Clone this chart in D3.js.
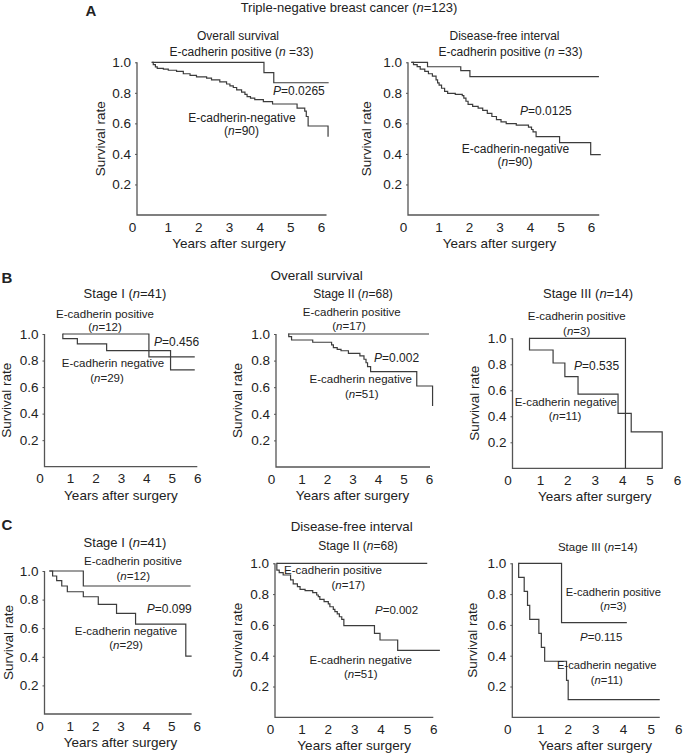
<!DOCTYPE html>
<html>
<head>
<meta charset="utf-8">
<script src="https://cdn.jsdelivr.net/npm/d3@7"></script>
<style>
  body { margin: 0; background: #fff; }
  text { font-family: "Liberation Sans", Arial, sans-serif; fill: #222; }
</style>
</head>
<body>
<script>
// tick values shared by all panels
const xTicks = [0, 1, 2, 3, 4, 5, 6]
const yTicks = [0.2, 0.4, 0.6, 0.8, 1.0]

// Kaplan-Meier curves, [years, survival]
// A: all triple-negative, overall survival
const aOsPos = [[0.48, 1.0], [4.14, 0.933], [4.46, 0.866], [6.25, 0.866]]
const aOsNeg = [[0.48, 1.0], [0.53, 0.985], [0.60, 0.97], [0.66, 0.96], [0.86, 0.955], [1.02, 0.948],
  [1.29, 0.94], [1.51, 0.925], [1.73, 0.915], [1.94, 0.905], [2.27, 0.897], [2.43, 0.885],
  [2.70, 0.872], [2.92, 0.858], [3.03, 0.845], [3.14, 0.835], [3.25, 0.82], [3.41, 0.805],
  [3.52, 0.79], [3.59, 0.775], [3.70, 0.765], [3.84, 0.755], [4.12, 0.742], [4.42, 0.727],
  [5.22, 0.70], [5.47, 0.68], [5.52, 0.645], [5.58, 0.583], [6.23, 0.513]]
// A: disease-free interval
const aDfiPos = [[0.11, 1.0], [0.64, 0.971], [1.73, 0.945], [2.03, 0.906], [6.26, 0.906]]
const aDfiNeg = [[0.11, 1.0], [0.18, 0.985], [0.30, 0.972], [0.40, 0.955], [0.55, 0.94], [0.67, 0.925],
  [0.80, 0.91], [0.92, 0.885], [0.97, 0.865], [1.02, 0.85], [1.10, 0.83], [1.20, 0.81],
  [1.30, 0.797], [1.55, 0.79], [1.78, 0.782], [1.83, 0.765], [1.90, 0.745], [1.97, 0.725],
  [2.12, 0.712], [2.30, 0.70], [2.45, 0.685], [2.60, 0.665], [2.75, 0.645], [2.90, 0.625],
  [3.05, 0.61], [3.22, 0.598], [3.55, 0.589], [3.95, 0.575], [4.05, 0.56], [4.10, 0.545],
  [4.20, 0.513], [4.97, 0.474], [5.99, 0.395], [6.32, 0.395]]
// B: overall survival by stage
const bIPos = [[0.71, 1.0], [4.1, 0.827], [5.9, 0.827]]
const bINeg = [[0.71, 1.0], [0.72, 0.965], [1.29, 0.925], [2.44, 0.874], [4.95, 0.729], [5.9, 0.729]]
const bIIPos = [[0.48, 1.0], [6.0, 1.0]]
const bIINeg = [[0.48, 1.0], [0.50, 0.98], [0.61, 0.955], [1.44, 0.938], [2.18, 0.918], [2.25, 0.898],
  [2.40, 0.885], [2.55, 0.874], [2.84, 0.855], [3.29, 0.835], [3.45, 0.81], [3.53, 0.784],
  [3.59, 0.755], [3.71, 0.717], [5.52, 0.609], [6.14, 0.459]]
const bIIIPos = [[0.61, 1.0], [4.12, 0]]
const bIIINeg = [[0.61, 1.0], [0.62, 0.91], [1.48, 0.81], [1.91, 0.705], [2.39, 0.57], [3.85, 0.423],
  [4.33, 0.28], [5.46, 0]]
// C: disease-free interval by stage
const cIPos = [[0.19, 1.0], [1.53, 0.895], [5.76, 0.895]]
const cINeg = [[0.19, 1.0], [0.32, 0.965], [0.48, 0.932], [0.68, 0.895], [0.90, 0.855], [1.53, 0.82],
  [2.12, 0.767], [2.84, 0.704], [3.59, 0.629], [5.57, 0.405], [5.80, 0.405]]
const cIIPos = [[0.06, 1.0], [5.77, 1.0]]
const cIINeg = [[0.06, 1.0], [0.07, 0.956], [0.16, 0.939], [0.31, 0.924], [0.59, 0.892], [0.69, 0.866],
  [0.85, 0.848], [0.95, 0.831], [1.14, 0.822], [1.43, 0.809], [1.58, 0.794], [1.64, 0.783],
  [1.70, 0.766], [1.86, 0.751], [2.02, 0.736], [2.08, 0.718], [2.21, 0.701], [2.27, 0.686],
  [2.36, 0.671], [2.44, 0.653], [2.53, 0.636], [2.61, 0.595], [3.77, 0.545], [3.98, 0.502],
  [4.65, 0.435], [6.25, 0.435]]
const cIIIPos = [[0.22, 1.0], [1.78, 0.615], [4.14, 0.615]]
const cIIINeg = [[0.22, 1.0], [0.23, 0.909], [0.43, 0.818], [0.55, 0.727], [0.63, 0.636], [0.96, 0.545],
  [1.05, 0.4545], [1.17, 0.364], [1.96, 0.24], [2.02, 0.115], [5.33, 0.115]]

// panel layout (pixel ranges for scales) and the curves for each
const panels = [
  {xr: [137, 321], yr: [215, 62.3], xEnd: 6.18, labDx: -37, curves: [aOsPos, aOsNeg]},
  {xr: [408, 591], yr: [215, 62.3], xEnd: 6.27, labDx: -42, curves: [aDfiPos, aDfiNeg]},
  {xr: [44.5, 197.3], yr: [466.7, 334], xEnd: 6.0, labDx: -38, curves: [bIPos, bINeg]},
  {xr: [276, 429], yr: [467, 334], xEnd: 6.04, labDx: -39, curves: [bIIPos, bIINeg]},
  {xr: [512.5, 677], yr: [468.3, 338.3], xEnd: 5.48, labDx: -38, curves: [bIIIPos, bIIINeg]},
  {xr: [44.5, 196.7], yr: [714, 571], xEnd: 5.8, labDx: -36, curves: [cIPos, cINeg]},
  {xr: [275, 433.3], yr: [717.3, 563.3], xEnd: 6.0, labDx: -38, curves: [cIIPos, cIINeg]},
  {xr: [512.3, 678.3], yr: [717.3, 563.3], xEnd: 5.33, labDx: -40, curves: [cIIIPos, cIIINeg]}
]

// text: "*" toggles italic. [text, x, baseline y, anchor, size, weight]
const labels = [
  ["A", 91, 16, "middle", 15, "bold"],
  ["Triple-negative breast cancer (*n*=123)", 349, 11.5, "middle", 13],
  ["Overall survival", 238, 39.5, "middle", 12],
  ["E-cadherin positive (*n* =33)", 241.5, 56, "middle", 12],
  ["*P*=0.0265", 273, 94.5, "start", 12],
  ["E-cadherin-negative", 242, 121.5, "middle", 12],
  ["(*n*=90)", 241.5, 134.5, "middle", 12],
  ["Disease-free interval", 504.5, 39.5, "middle", 12],
  ["E-cadherin positive (*n* =33)", 510.5, 56, "middle", 12],
  ["*P*=0.0125", 520, 114.5, "start", 12],
  ["E-cadherin-negative", 515.5, 153, "middle", 12],
  ["(*n*=90)", 515, 166, "middle", 12],

  ["B", 7, 283, "middle", 15, "bold"],
  ["Overall survival", 316.7, 280, "middle", 13.5],
  ["Stage I (*n*=41)", 125, 298, "middle", 13],
  ["E-cadherin positive", 105, 317.5, "middle", 11.5],
  ["(*n*=12)", 105, 331, "middle", 11.5],
  ["*P*=0.456", 154, 346, "start", 12],
  ["E-cadherin negative", 113, 367, "middle", 11.5],
  ["(*n*=29)", 107, 382, "middle", 11.5],
  ["Stage II (*n*=68)", 353, 298, "middle", 12],
  ["E-cadherin positive", 351.7, 316, "middle", 11.5],
  ["(*n*=17)", 349, 330, "middle", 11.5],
  ["*P*=0.002", 374, 362, "start", 12],
  ["E-cadherin negative", 360.7, 383, "middle", 11.5],
  ["(*n*=51)", 361.7, 398, "middle", 11.5],
  ["Stage III (*n*=14)", 588, 298, "middle", 13],
  ["E-cadherin positive", 576.7, 319.5, "middle", 11.5],
  ["(*n*=3)", 576.7, 334.5, "middle", 11.5],
  ["*P*=0.535", 574, 369.5, "start", 12],
  ["E-cadherin negative", 565.8, 405.5, "middle", 11.5],
  ["(*n*=11)", 565, 419.5, "middle", 11.5],

  ["C", 7, 530, "middle", 15, "bold"],
  ["Disease-free interval", 351.7, 531, "middle", 13.3],
  ["Stage I (*n*=41)", 125, 547, "middle", 13],
  ["E-cadherin positive", 133, 565, "middle", 11.5],
  ["(*n*=12)", 133.3, 579.5, "middle", 11.5],
  ["*P*=0.099", 146.7, 612.5, "start", 12],
  ["E-cadherin negative", 126, 634.5, "middle", 11.5],
  ["(*n*=29)", 126, 649, "middle", 11.5],
  ["Stage II (*n*=68)", 358, 550, "middle", 12],
  ["E-cadherin positive", 333, 574, "middle", 11.5],
  ["(*n*=17)", 348.3, 589, "middle", 11.5],
  ["*P*=0.002", 375, 614, "start", 11.5],
  ["E-cadherin negative", 360.7, 664, "middle", 11.5],
  ["(*n*=51)", 360.7, 678, "middle", 11.5],
  ["Stage III (*n*=14)", 597.7, 551, "middle", 11.5],
  ["E-cadherin positive", 613.3, 596, "middle", 11.2],
  ["(*n*=3)", 613.3, 610, "middle", 11.2],
  ["*P*=0.115", 580, 640.5, "start", 11.5],
  ["E-cadherin negative", 606.7, 669, "middle", 11.2],
  ["(*n*=11)", 606.7, 684, "middle", 11.2]
]

const width = 685, height = 753
const lineColor = "#3c3c3c", axisColor = "#555"

let svg = d3.select("body").append("svg")
    .attr("width", width)
    .attr("height", height)

const stepLine = d3.line().curve(d3.curveStepAfter)

panels.forEach(p => {
    let x = d3.scaleLinear().domain([0, 6]).range(p.xr)
    let y = d3.scaleLinear().domain([0, 1]).range(p.yr)
    let g = svg.append("g")

    // x axis: labels only, line drawn separately
    let xa = g.append("g")
        .attr("transform", `translate(0,${p.yr[0]})`)
        .call(d3.axisBottom(x).tickValues(xTicks).tickSize(0).tickPadding(7).tickFormat(d3.format("d")))
    xa.select(".domain").remove()
    xa.selectAll("text").attr("font-size", 13.5).attr("font-family", null).attr("fill", "#222")
        .attr("dx", d => d === 0 ? -5 : 0)

    let ya = g.append("g")
        .attr("transform", `translate(${p.xr[0]},0)`)
        .call(d3.axisLeft(y).tickValues(yTicks).tickSize(2).tickPadding(4).tickFormat(d3.format(".1f")))
    ya.select(".domain").remove()
    ya.selectAll("line").attr("stroke", axisColor)
    ya.selectAll("text").attr("font-size", 13.5).attr("font-family", null).attr("fill", "#222")

    // axis lines
    g.append("path")
        .attr("d", `M${x(0)},${y(1)}V${y(0)}H${x(p.xEnd)}`)
        .attr("fill", "none")
        .attr("stroke", axisColor)
        .attr("stroke-width", 1.3)

    g.append("text")
        .attr("transform", `translate(${x(0) + p.labDx},${(y(0) + y(1)) / 2}) rotate(-90)`)
        .attr("text-anchor", "middle")
        .attr("dy", "0.35em")
        .attr("font-size", 13.5)
        .text("Survival rate")

    g.append("text")
        .attr("x", (x(0) + x(6)) / 2)
        .attr("y", y(0) + 33)
        .attr("text-anchor", "middle")
        .attr("font-size", 13.5)
        .text("Years after surgery")

    g.selectAll("path.km")
        .data(p.curves)
        .enter()
        .append("path")
        .attr("class", "km")
        .attr("d", d => stepLine(d.map(v => [x(v[0]), y(v[1])])))
        .attr("fill", "none")
        .attr("stroke", lineColor)
        .attr("stroke-width", 1.2)
})

labels.forEach(l => {
    let t = svg.append("text")
        .attr("x", l[1])
        .attr("y", l[2])
        .attr("text-anchor", l[3])
        .attr("font-size", l[4])
        .attr("font-weight", l[5] || "normal")
    l[0].split("*").forEach((part, i) => {
        if (part === "") return
        t.append("tspan")
            .attr("font-style", i % 2 ? "italic" : "normal")
            .text(part)
    })
})
</script>
</body>
</html>
